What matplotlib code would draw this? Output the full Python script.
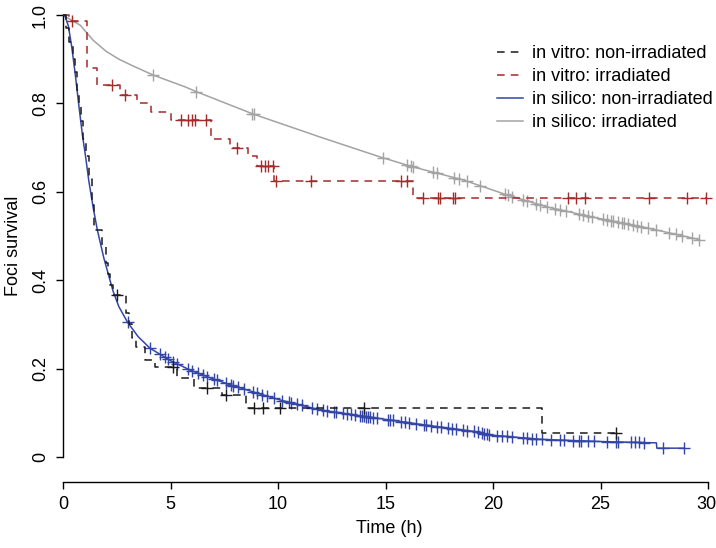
import numpy as np
import matplotlib
matplotlib.use("Agg")
import matplotlib.pyplot as plt
from matplotlib.transforms import ScaledTranslation

plt.rcParams['font.family'] = ['Liberation Sans', 'DejaVu Sans']
plt.rcParams['font.size'] = 13

# in vitro: non-irradiated (Kaplan-Meier steps)
vitro_non_t = [0, 0.15, 0.3, 0.45, 0.55, 0.65, 0.75, 0.85, 0.95, 1.05, 1.2, 1.35, 1.45,
               1.8, 2.0, 2.1, 2.2, 2.33, 2.95, 3.05, 3.2, 3.4, 3.8, 4.3, 5.3, 6.1, 7.4, 8.5, 22.3, 25.7]
vitro_non_s = [1.0, 0.97, 0.94, 0.90, 0.87, 0.83, 0.80, 0.76, 0.72, 0.68, 0.63, 0.57, 0.513,
               0.475, 0.44, 0.415, 0.39, 0.367, 0.326, 0.30, 0.27, 0.25, 0.22, 0.203, 0.178, 0.156, 0.14, 0.111, 0.055, 0.055]
vitro_non_cens = [2.5, 5.1, 6.7, 7.6, 8.9, 9.3, 10.1, 14.0, 25.7]

# in vitro: irradiated
vitro_irr_t = [0, 0.3, 1.1, 1.6, 2.65, 3.45, 4.1, 5.0, 6.9, 7.75, 8.6, 9.0, 9.8, 16.3, 29.9]
vitro_irr_s = [1.0, 0.986, 0.88, 0.842, 0.82, 0.80, 0.78, 0.762, 0.72, 0.70, 0.68, 0.658, 0.625, 0.586, 0.586]
vitro_irr_cens = [0.4, 2.3, 2.9, 5.5, 5.8, 6.0, 6.15, 6.65, 8.1, 9.2, 9.4, 9.55, 9.75, 9.9, 11.55,
                  15.7, 16.0, 16.75, 17.45, 17.55, 18.15, 18.25, 23.5, 23.85, 24.3, 27.25, 29.0, 29.9]

# in silico: non-irradiated
silico_non_t = [0, 0.1, 0.25, 0.4, 0.56, 0.75, 0.9, 1.05, 1.2, 1.4, 1.6, 1.9, 2.1, 2.33, 2.6, 3.0,
                3.5, 4.05, 5.0, 5.9, 6.8, 7.8, 9.0, 10.1, 12.0, 14.0, 16.9, 19.4, 19.8, 22.2, 25.0,
                27.6, 27.62, 28.9]
silico_non_s = [1.0, 0.997, 0.975, 0.93, 0.87, 0.79, 0.73, 0.68, 0.625, 0.565, 0.513, 0.45, 0.415,
                0.375, 0.34, 0.305, 0.272, 0.246, 0.218, 0.197, 0.18, 0.163, 0.145, 0.129, 0.106,
                0.092, 0.072, 0.056, 0.05, 0.04, 0.035, 0.032, 0.02, 0.02]
silico_non_cens = [3.0, 4.05, 4.5, 4.75, 4.9, 5.1, 5.3, 5.8, 6.0, 6.3, 6.5, 6.7, 7.0, 7.15, 7.6, 7.8,
                   7.9, 8.15, 8.4, 8.85, 9.0, 9.25, 9.5, 9.8, 10.2, 10.5, 10.6, 10.9, 11.1, 11.6, 11.8,
                   12.1, 12.3, 12.6, 12.7, 13.0, 13.2, 13.4, 13.6, 13.8, 13.9, 14.0, 14.1, 14.2, 14.3,
                   14.4, 14.6, 15.1, 15.2, 15.35, 15.7, 15.9, 16.1, 16.4, 16.8, 16.9, 17.1, 17.4, 17.6,
                   17.9, 18.1, 18.3, 18.6, 18.8, 19.1, 19.3, 19.5, 19.6, 19.7, 19.8, 20.2, 20.4, 20.65,
                   20.9, 21.4, 21.6, 21.8, 22.0, 22.3, 22.7, 23.1, 23.3, 23.7, 24.0, 24.1, 24.4, 24.7,
                   25.3, 25.7, 25.8, 26.4, 26.6, 26.8, 27.0, 27.9, 28.9]

# in silico: irradiated
silico_irr_t = [0, 0.23, 0.8, 1.4, 2.0, 2.6, 3.2, 4.2, 5.7, 6.23, 8.84, 11.95, 14.74, 16.3, 18.6,
                20.65, 22.5, 24.8, 27.2, 29.3, 29.6]
silico_irr_s = [1.0, 0.993, 0.977, 0.943, 0.918, 0.90, 0.886, 0.864, 0.837, 0.826, 0.776, 0.724,
                0.679, 0.656, 0.627, 0.593, 0.566, 0.541, 0.518, 0.495, 0.492]
silico_irr_cens = [4.2, 6.2, 8.8, 8.9, 14.9, 16.0, 16.2, 16.3, 17.2, 17.4, 18.2, 18.4, 18.8, 19.4,
                   20.55, 20.7, 20.9, 21.4, 21.6, 22.0, 22.2, 22.5, 22.9, 23.1, 23.4, 24.0, 24.2,
                   24.4, 24.6, 25.1, 25.3, 25.5, 25.6, 25.8, 26.0, 26.1, 26.3, 26.5, 26.7, 26.9,
                   27.2, 27.6, 28.2, 28.5, 28.8, 29.25, 29.6]

x_ticks = [0, 5, 10, 15, 20, 25, 30]
y_ticks = [0, 0.2, 0.4, 0.6, 0.8, 1.0]
y_ticklabels = ['0', '0.2', '0.4', '0.6', '0.8', '1.0']

c_black = '#1a1a1a'
c_red = '#a52a2a'
c_blue = '#3445a8'
c_gray = '#a3a3a3'
dash = (0, (5, 4))


def step_value(t, times, surv):
    idx = np.searchsorted(times, t, side='right') - 1
    return np.asarray(surv)[idx]


fig = plt.figure(figsize=(7.16, 5.48), dpi=100)
ax = fig.add_axes([63 / 716, 1 - 482 / 548, (714.5 - 63) / 716, (482 - 10) / 548])

# in silico curves
ax.plot(silico_irr_t, silico_irr_s, color=c_gray, lw=1.1, label='in silico: irradiated', zorder=2)
ax.plot(silico_irr_cens, np.interp(silico_irr_cens, silico_irr_t, silico_irr_s), '+',
        color=c_gray, ms=8, mew=1.0, zorder=2)
ax.plot(silico_non_t, silico_non_s, color=c_blue, lw=1.1, label='in silico: non-irradiated', zorder=3)
ax.plot(silico_non_cens, np.interp(silico_non_cens, silico_non_t, silico_non_s), '+',
        color=c_blue, ms=8, mew=1.0, zorder=3)

# in vitro curves
ax.step(vitro_irr_t, vitro_irr_s, where='post', color=c_red, lw=1.1, linestyle=dash,
        label='in vitro: irradiated', zorder=4, clip_on=False)
ax.plot(vitro_irr_cens, step_value(vitro_irr_cens, vitro_irr_t, vitro_irr_s), '+',
        color=c_red, ms=9, mew=1.0, zorder=4, clip_on=False)
ax.step(vitro_non_t, vitro_non_s, where='post', color=c_black, lw=1.1, linestyle=dash,
        label='in vitro: non-irradiated', zorder=4)
ax.plot(vitro_non_cens, step_value(vitro_non_cens, vitro_non_t, vitro_non_s), '+',
        color=c_black, ms=9, mew=1.0, zorder=4)

ax.set_xlim(0, (714.5 - 63) / 21.5)
ax.set_ylim(-25 / 442, 1 + 5 / 442)

for side in ['top', 'right']:
    ax.spines[side].set_visible(False)
ax.spines['left'].set_bounds(0, 1)
ax.spines['bottom'].set_bounds(0, 30)
ax.spines['left'].set_linewidth(1.0)
ax.spines['bottom'].set_linewidth(1.0)

ax.set_xticks(x_ticks)
ax.set_xticklabels([str(v) for v in x_ticks])
ax.set_yticks(y_ticks)
ax.set_yticklabels(y_ticklabels, rotation=90, va='center')
ax.tick_params(axis='both', length=5, width=1.0, labelsize=13, pad=5)

# keep the last x label inside the canvas
last = ax.get_xticklabels()[-1]
last.set_transform(last.get_transform() + ScaledTranslation(-2 / 100, 0, fig.dpi_scale_trans))

ax.set_xlabel('Time (h)', fontsize=13, labelpad=5)
ax.set_ylabel('Foci survival', fontsize=13, labelpad=7)

handles, labels = ax.get_legend_handles_labels()
order = ['in vitro: non-irradiated', 'in vitro: irradiated',
         'in silico: non-irradiated', 'in silico: irradiated']
hl = {l: h for h, l in zip(handles, labels)}
ax.legend([hl[o] for o in order], order, loc='upper left',
          bbox_to_anchor=(497 / 716, 1 - 45 / 548), bbox_transform=fig.transFigure,
          frameon=False, fontsize=13, handlelength=1.45, handletextpad=0.5,
          labelspacing=0.33, borderpad=0, borderaxespad=0)

fig.savefig('out.png', dpi=100)
